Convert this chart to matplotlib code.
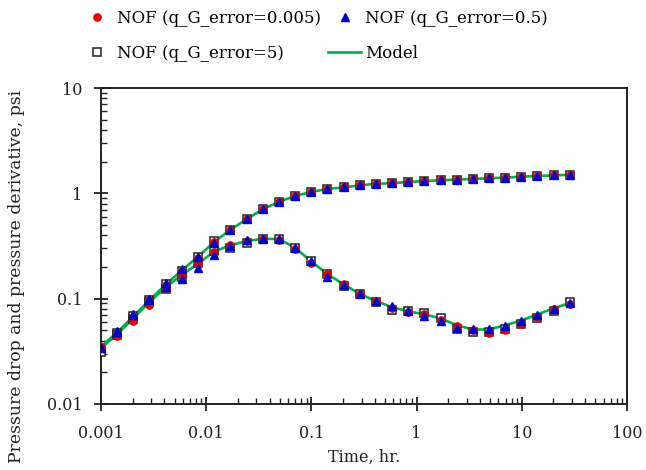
import matplotlib
matplotlib.use("Agg")
import matplotlib.pyplot as plt
from matplotlib.ticker import LogLocator, FixedLocator, NullFormatter

# Time, hr.
time_hr = [0.001, 0.001425, 0.00203, 0.00289, 0.00412, 0.00587, 0.00836, 0.0119,
           0.0170, 0.0242, 0.0344, 0.0491, 0.0699, 0.0996, 0.142, 0.202, 0.288,
           0.410, 0.584, 0.832, 1.185, 1.69, 2.40, 3.43, 4.88, 6.95, 9.90, 14.1,
           20.1, 28.6]

# Model (green line)
model_dp = [0.035, 0.048, 0.068, 0.097, 0.136, 0.186, 0.250, 0.345, 0.452, 0.568,
            0.705, 0.830, 0.945, 1.03, 1.10, 1.14, 1.19, 1.23, 1.25, 1.28, 1.31,
            1.33, 1.35, 1.37, 1.39, 1.41, 1.44, 1.46, 1.48, 1.50]
model_der = [0.034, 0.046, 0.065, 0.093, 0.128, 0.168, 0.215, 0.280, 0.322, 0.352,
             0.370, 0.368, 0.305, 0.226, 0.171, 0.137, 0.111, 0.095, 0.083, 0.076,
             0.071, 0.065, 0.056, 0.051, 0.051, 0.056, 0.062, 0.071, 0.081, 0.091]

# NOF (q_G_error=0.005) - red circles
red_dp = [0.035, 0.046, 0.067, 0.095, 0.136, 0.185, 0.245, 0.345, 0.450, 0.570,
          0.705, 0.830, 0.945, 1.03, 1.10, 1.14, 1.19, 1.23, 1.25, 1.28, 1.31,
          1.33, 1.35, 1.37, 1.39, 1.41, 1.44, 1.46, 1.48, 1.50]
red_der = [0.035, 0.044, 0.062, 0.088, 0.125, 0.165, 0.215, 0.275, 0.320, 0.352,
           0.368, 0.360, 0.295, 0.220, 0.173, 0.138, 0.110, 0.094, 0.081, 0.075,
           0.071, 0.063, 0.055, 0.050, 0.047, 0.050, 0.058, 0.067, 0.079, 0.089]

# NOF (q_G_error=0.5) - blue triangles
blue_dp = [0.034, 0.049, 0.071, 0.100, 0.140, 0.190, 0.250, 0.340, 0.452, 0.568,
           0.705, 0.830, 0.945, 1.03, 1.10, 1.14, 1.19, 1.23, 1.25, 1.28, 1.31,
           1.33, 1.35, 1.37, 1.39, 1.41, 1.44, 1.46, 1.48, 1.50]
blue_der = [0.034, 0.048, 0.070, 0.097, 0.130, 0.155, 0.195, 0.258, 0.318, 0.360,
            0.372, 0.365, 0.300, 0.228, 0.160, 0.135, 0.111, 0.095, 0.085, 0.077,
            0.069, 0.062, 0.053, 0.052, 0.052, 0.055, 0.062, 0.070, 0.079, 0.091]

# NOF (q_G_error=5) - open squares
sq_dp = [0.032, 0.047, 0.069, 0.097, 0.137, 0.182, 0.248, 0.350, 0.452, 0.568,
         0.705, 0.830, 0.945, 1.03, 1.10, 1.14, 1.19, 1.23, 1.25, 1.28, 1.31,
         1.33, 1.35, 1.37, 1.39, 1.41, 1.44, 1.46, 1.48, 1.50]
sq_der = [0.031, 0.045, 0.064, 0.092, 0.124, 0.160, 0.220, 0.285, 0.305, 0.340,
          0.372, 0.372, 0.305, 0.230, 0.170, 0.132, 0.111, 0.093, 0.078, 0.077,
          0.073, 0.065, 0.052, 0.048, 0.048, 0.052, 0.058, 0.065, 0.076, 0.092]

labels = ["NOF (q_G_error=0.005)", "NOF (q_G_error=0.5)", "NOF (q_G_error=5)", "Model"]
x_ticks = [0.001, 0.01, 0.1, 1, 10, 100]
x_ticklabels = ["0.001", "0.01", "0.1", "1", "10", "100"]
y_ticks = [0.01, 0.1, 1, 10]
y_ticklabels = ["0.01", "0.1", "1", "10"]

plt.rcParams['font.family'] = ['DejaVu Serif']
plt.rcParams['font.size'] = 11.5

fig = plt.figure(figsize=(6.46, 4.70), dpi=100)
ax = fig.add_axes([101/646, 1-404/470, (627-101)/646, (404-88)/470])

green = "#00B050"
red = "#E00000"
blue = "#0000CC"
dark = "#222222"

for m in (model_dp, model_der):
    ax.plot(time_hr, m, color=green, lw=1.9, zorder=2)
for d in (sq_dp, sq_der):
    ax.plot(time_hr, d, ls="none", marker="s", ms=5.8, mfc="white", mec=dark, mew=1.1, zorder=3)
for d in (red_dp, red_der):
    ax.plot(time_hr, d, ls="none", marker="o", ms=5.2, mfc=red, mec=red, zorder=4)
for d in (blue_dp, blue_der):
    ax.plot(time_hr, d, ls="none", marker="^", ms=5.3, mfc=blue, mec=blue, zorder=5)

ax.set_xscale("log")
ax.set_yscale("log")
ax.set_xlim(0.001, 100)
ax.set_ylim(0.01, 10)
ax.xaxis.set_major_locator(FixedLocator(x_ticks))
ax.set_xticklabels(x_ticklabels)
ax.yaxis.set_major_locator(FixedLocator(y_ticks))
ax.set_yticklabels(y_ticklabels)
ax.xaxis.set_minor_locator(LogLocator(base=10, subs=range(2, 10), numticks=20))
ax.yaxis.set_minor_locator(LogLocator(base=10, subs=range(2, 10), numticks=20))
ax.xaxis.set_minor_formatter(NullFormatter())
ax.yaxis.set_minor_formatter(NullFormatter())
ax.tick_params(which="major", direction="inout", length=10, width=1.3, colors=dark, labelcolor=dark)
ax.tick_params(axis="x", which="major", pad=10)
ax.tick_params(axis="y", which="major", pad=8.5)
ax.tick_params(which="minor", direction="in", length=4, width=1.0, colors=dark)
for s in ax.spines.values():
    s.set_linewidth(1.4)
    s.set_color(dark)

ax.set_xlabel("Time, hr.", labelpad=5, color=dark)
ax.set_ylabel("Pressure drop and pressure derivative, psi", color=dark, fontsize=12.4)
ax.yaxis.set_label_coords(-76/526, 0.405)

h_red = plt.Line2D([], [], ls="none", marker="o", ms=5.2, mfc=red, mec=red)
h_blue = plt.Line2D([], [], ls="none", marker="^", ms=5.3, mfc=blue, mec=blue)
h_sq = plt.Line2D([], [], ls="none", marker="s", ms=5.8, mfc="white", mec=dark, mew=1.1)
h_model = plt.Line2D([], [], color=green, lw=1.9)
fig.legend([h_red, h_sq, h_blue, h_model], [labels[0], labels[2], labels[1], labels[3]],
           ncol=2, loc="upper left", bbox_to_anchor=(80/646, 1-10/470), frameon=False,
           handlelength=2.0, handletextpad=0.2, columnspacing=0.45, labelspacing=1.1,
           borderpad=0, borderaxespad=0, fontsize=12)

fig.savefig("out.png", dpi=100)
